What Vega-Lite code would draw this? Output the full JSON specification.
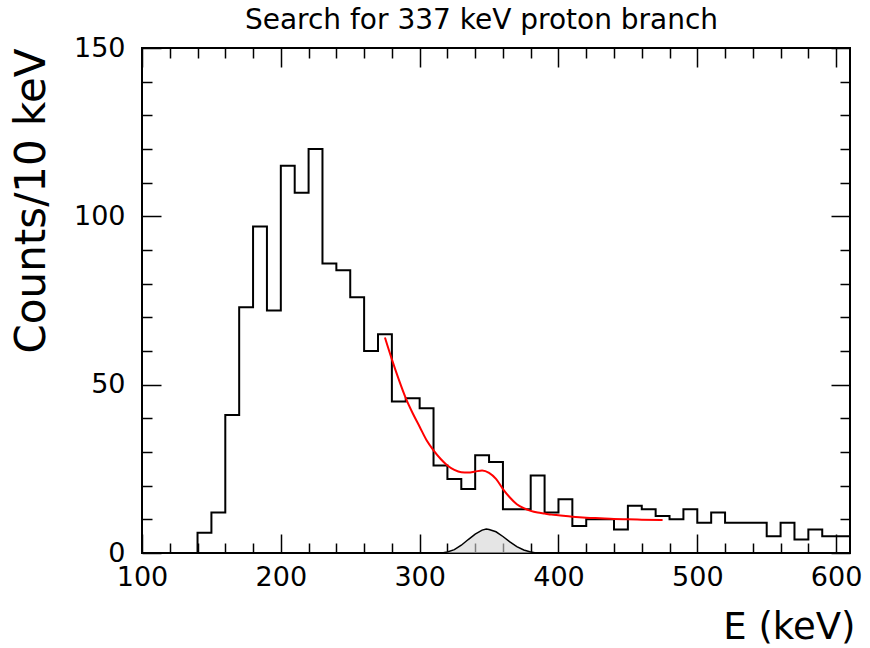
{
  "$schema": "https://vega.github.io/schema/vega-lite/v6.json",
  "width": 708,
  "height": 505,
  "autosize": "none",
  "padding": {"left": 142, "top": 48, "right": 20, "bottom": 95},
  "background": "white",
  "config": {
    "view": {"stroke": "black", "strokeWidth": 2},
    "axis": {"domain": false, "grid": false, "tickColor": "black", "tickWidth": 1.5, "labelColor": "black", "titleColor": "black", "labelFont": "DejaVu Sans", "titleFont": "DejaVu Sans", "titleFontWeight": "normal"}
  },
  "datasets": {
    "hist": [
      {"E": 100, "c": 0}, {"E": 110, "c": 0}, {"E": 120, "c": 0}, {"E": 130, "c": 0},
      {"E": 140, "c": 6}, {"E": 150, "c": 12}, {"E": 160, "c": 41}, {"E": 170, "c": 73},
      {"E": 180, "c": 97}, {"E": 190, "c": 72}, {"E": 200, "c": 115}, {"E": 210, "c": 107},
      {"E": 220, "c": 120}, {"E": 230, "c": 86}, {"E": 240, "c": 84}, {"E": 250, "c": 76},
      {"E": 260, "c": 60}, {"E": 270, "c": 65}, {"E": 280, "c": 45}, {"E": 290, "c": 46},
      {"E": 300, "c": 43}, {"E": 310, "c": 26}, {"E": 320, "c": 22}, {"E": 330, "c": 19},
      {"E": 340, "c": 29}, {"E": 350, "c": 27}, {"E": 360, "c": 13}, {"E": 370, "c": 13},
      {"E": 380, "c": 23}, {"E": 390, "c": 12}, {"E": 400, "c": 16}, {"E": 410, "c": 8},
      {"E": 420, "c": 10}, {"E": 430, "c": 10}, {"E": 440, "c": 7}, {"E": 450, "c": 14},
      {"E": 460, "c": 13}, {"E": 470, "c": 11}, {"E": 480, "c": 10}, {"E": 490, "c": 13},
      {"E": 500, "c": 9}, {"E": 510, "c": 12}, {"E": 520, "c": 9}, {"E": 530, "c": 9},
      {"E": 540, "c": 9}, {"E": 550, "c": 5}, {"E": 560, "c": 9}, {"E": 570, "c": 4},
      {"E": 580, "c": 7}, {"E": 590, "c": 5}, {"E": 600, "c": 5}, {"E": 610, "c": 5}
    ],
    "fit": [
      {"E": 275, "c": 64}, {"E": 280, "c": 57.5}, {"E": 285, "c": 51.5}, {"E": 290, "c": 46},
      {"E": 295, "c": 41.5}, {"E": 300, "c": 37.5}, {"E": 305, "c": 33.5}, {"E": 310, "c": 30.5},
      {"E": 315, "c": 28}, {"E": 320, "c": 26}, {"E": 325, "c": 24.7}, {"E": 330, "c": 24},
      {"E": 335, "c": 23.9}, {"E": 340, "c": 24.2}, {"E": 345, "c": 24.5}, {"E": 350, "c": 23.8},
      {"E": 355, "c": 22}, {"E": 360, "c": 19}, {"E": 365, "c": 16.5}, {"E": 370, "c": 14.5},
      {"E": 375, "c": 13.3}, {"E": 380, "c": 12.5}, {"E": 385, "c": 12}, {"E": 390, "c": 11.7},
      {"E": 395, "c": 11.4}, {"E": 400, "c": 11.2}, {"E": 410, "c": 10.8}, {"E": 420, "c": 10.5},
      {"E": 430, "c": 10.3}, {"E": 440, "c": 10.1}, {"E": 450, "c": 10}, {"E": 460, "c": 9.9},
      {"E": 475, "c": 9.8}
    ],
    "gauss": [
      {"E": 316, "c": 0}, {"E": 320, "c": 0.3}, {"E": 325, "c": 1}, {"E": 330, "c": 2.3},
      {"E": 335, "c": 4}, {"E": 340, "c": 5.6}, {"E": 345, "c": 6.8}, {"E": 348, "c": 7.1},
      {"E": 350, "c": 7}, {"E": 355, "c": 6.3}, {"E": 360, "c": 4.9}, {"E": 365, "c": 3.3},
      {"E": 370, "c": 1.9}, {"E": 375, "c": 0.9}, {"E": 380, "c": 0.3}, {"E": 384, "c": 0}
    ]
  },
  "resolve": {"axis": {"x": "independent", "y": "independent"}},
  "layer": [
    {
      "data": {"name": "hist"},
      "mark": {"type": "line", "interpolate": "step-after", "color": "black", "strokeWidth": 2},
      "encoding": {
        "x": {"field": "E", "type": "quantitative", "scale": {"domain": [100, 610], "nice": false, "zero": false},
          "axis": {"orient": "bottom", "values": [100, 200, 300, 400, 500, 600], "tickSize": -19, "labelPadding": 30, "labelFontSize": 27, "labelFlush": false, "labelOverlap": false,
            "title": "E (keV)", "titleFontSize": 37, "titleX": 713, "titleY": 85, "titleAlign": "right", "titleBaseline": "alphabetic", "titleAnchor": null}},
        "y": {"field": "c", "type": "quantitative", "scale": {"domain": [0, 150], "nice": false},
          "axis": {"orient": "left", "values": [0, 50, 100, 150], "tickSize": -19, "labelPadding": 36, "labelFontSize": 27, "labelFlush": false, "labelOverlap": false,
            "title": "Counts/10 keV", "titleFontSize": 42, "titleAngle": -90, "titleX": -98, "titleY": 0, "titleAlign": "right", "titleBaseline": "alphabetic", "titleAnchor": null}}
      }
    },
    {
      "data": {"name": "gauss"},
      "mark": {"type": "area", "color": "#d4d4d4", "opacity": 0.6},
      "encoding": {
        "x": {"field": "E", "type": "quantitative", "scale": {"domain": [100, 610], "nice": false, "zero": false},
          "axis": {"orient": "bottom", "values": [120, 140, 160, 180, 220, 240, 260, 280, 320, 340, 360, 380, 420, 440, 460, 480, 520, 540, 560, 580], "tickSize": -10, "labels": false, "title": null}},
        "y": {"field": "c", "type": "quantitative", "scale": {"domain": [0, 150], "nice": false},
          "axis": {"orient": "left", "values": [10, 20, 30, 40, 60, 70, 80, 90, 110, 120, 130, 140], "tickSize": -10, "labels": false, "title": null}}
      }
    },
    {
      "data": {"name": "gauss"},
      "mark": {"type": "line", "color": "black", "strokeWidth": 1.5},
      "encoding": {
        "x": {"field": "E", "type": "quantitative", "scale": {"domain": [100, 610], "nice": false, "zero": false},
          "axis": {"orient": "top", "values": [100, 200, 300, 400, 500, 600], "tickSize": -19, "labels": false,
            "title": "Search for 337 keV proton branch", "titleFontSize": 28, "titleX": 339, "titleY": -20, "titleAlign": "center", "titleBaseline": "alphabetic", "titleAnchor": null}},
        "y": {"field": "c", "type": "quantitative", "scale": {"domain": [0, 150], "nice": false},
          "axis": {"orient": "right", "values": [0, 50, 100, 150], "tickSize": -19, "labels": false, "title": null}}
      }
    },
    {
      "data": {"name": "fit"},
      "mark": {"type": "line", "color": "#ff0000", "strokeWidth": 2, "interpolate": "monotone"},
      "encoding": {
        "x": {"field": "E", "type": "quantitative", "scale": {"domain": [100, 610], "nice": false, "zero": false},
          "axis": {"orient": "top", "values": [120, 140, 160, 180, 220, 240, 260, 280, 320, 340, 360, 380, 420, 440, 460, 480, 520, 540, 560, 580], "tickSize": -10, "labels": false, "title": null}},
        "y": {"field": "c", "type": "quantitative", "scale": {"domain": [0, 150], "nice": false},
          "axis": {"orient": "right", "values": [10, 20, 30, 40, 60, 70, 80, 90, 110, 120, 130, 140], "tickSize": -10, "labels": false, "title": null}}
      }
    }
  ]
}
